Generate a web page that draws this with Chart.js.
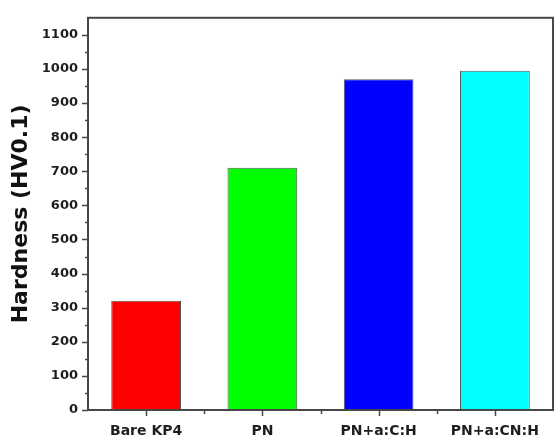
<!DOCTYPE html>
<html><head><meta charset="utf-8">
<script src="https://cdn.jsdelivr.net/npm/chart.js@4/dist/chart.umd.min.js"></script>
<style>html,body{margin:0;padding:0;background:#fff;}canvas{display:block;}</style>
</head><body>
<canvas id="c" width="554" height="443"></canvas>
<script>
const categories = ['Bare KP4', 'PN', 'PN+a:C:H', 'PN+a:CN:H'];
const hardness = [320, 710, 970, 995];
const yTickValues = [0, 100, 200, 300, 400, 500, 600, 700, 800, 900, 1000, 1100];
const yMinorValues = [50, 150, 250, 350, 450, 550, 650, 750, 850, 950, 1050];
const barColors = ['#ff0000', '#00ff00', '#0000ff', '#00ffff'];
const yTitle = 'Hardness (HV0.1)';

const FONT = '"DejaVu Sans", sans-serif';
const AXIS_COLOR = '#474747';

const framePlugin = {
  id: 'frame',
  afterDraw(chart) {
    const {ctx, chartArea: a, scales} = chart;
    const ys = scales.y, xs = scales.x;
    ctx.save();
    ctx.strokeStyle = AXIS_COLOR;
    ctx.lineWidth = 2;
    ctx.strokeRect(a.left, a.top, a.right - a.left, a.bottom - a.top);
    ctx.lineWidth = 1.5;
    ctx.beginPath();
    yTickValues.forEach(v => {
      const y = Math.round(ys.getPixelForValue(v)) + 0.5;
      ctx.moveTo(a.left - 6, y); ctx.lineTo(a.left, y);
    });
    yMinorValues.forEach(v => {
      const y = Math.round(ys.getPixelForValue(v)) + 0.5;
      ctx.moveTo(a.left - 3, y); ctx.lineTo(a.left, y);
    });
    categories.forEach((c, i) => {
      const x = Math.round(xs.getPixelForValue(i)) + 0.5;
      ctx.moveTo(x, a.bottom); ctx.lineTo(x, a.bottom + 6);
      if (i > 0) {
        const xm = Math.round((xs.getPixelForValue(i - 1) + xs.getPixelForValue(i)) / 2) + 0.5;
        ctx.moveTo(xm, a.bottom); ctx.lineTo(xm, a.bottom + 4);
      }
    });
    ctx.stroke();
    ctx.restore();
  }
};

new Chart(document.getElementById('c'), {
  type: 'bar',
  data: {
    labels: categories,
    datasets: [{
      data: hardness,
      backgroundColor: barColors,
      borderColor: '#555555',
      borderWidth: 1,
      barPercentage: 0.6,
      categoryPercentage: 1.0
    }]
  },
  options: {
    responsive: false,
    devicePixelRatio: 1,
    animation: false,
    layout: {padding: {top: 6, right: 1, left: 0, bottom: 0}},
    plugins: {legend: {display: false}, tooltip: {enabled: false}},
    scales: {
      x: {
        grid: {display: false, drawTicks: false},
        border: {display: false},
        ticks: {color: '#1e1e1e', font: {family: FONT, size: 14, weight: 'bold'}, padding: 13, maxRotation: 0},
        afterFit(s) { s.height = 33; }
      },
      y: {
        min: 0, max: 1150,
        grid: {display: false, drawTicks: false},
        border: {display: false},
        ticks: {color: '#1e1e1e', font: {family: FONT, size: 13, weight: 'bold'}, padding: 10,
                callback: v => String(v)},
        afterBuildTicks(s) { s.ticks = yTickValues.map(v => ({value: v})); },
        title: {display: true, text: yTitle, color: '#111111', font: {family: FONT, size: 22, weight: 'bold'}, padding: {top: 8, bottom: 0}},
        afterFit(s) { s.width = 88; }
      }
    }
  },
  plugins: [framePlugin]
});
</script>
</body></html>
